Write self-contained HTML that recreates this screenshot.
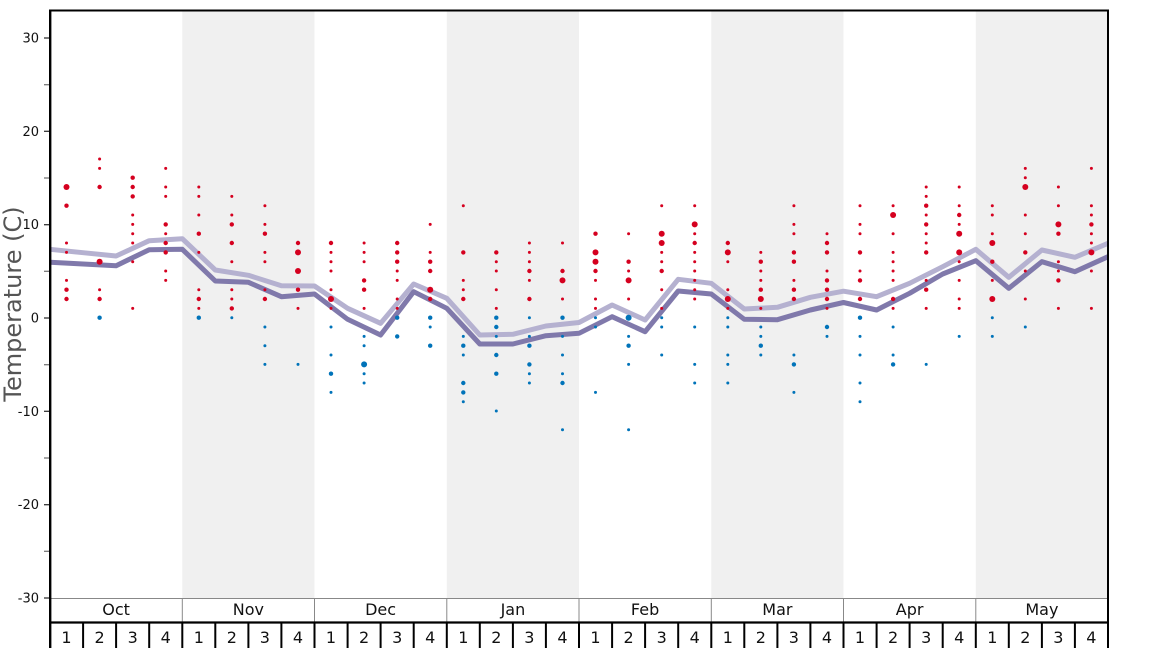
<!DOCTYPE html>
<html><head><meta charset="utf-8"><style>
html,body{margin:0;padding:0;background:#fff;}
svg{display:block;}
.r{fill:#d5001f}.b{fill:#0073b9}
text{font-family:"DejaVu Sans","Liberation Sans",sans-serif;}
</style></head><body>
<svg width="1168" height="648" viewBox="0 0 1168 648" xmlns="http://www.w3.org/2000/svg">
<!-- shaded bands -->
<rect x="182.3" y="10" width="132.2" height="588" fill="#f0f0f0"/>
<rect x="446.8" y="10" width="132.2" height="588" fill="#f0f0f0"/>
<rect x="711.3" y="10" width="132.2" height="588" fill="#f0f0f0"/>
<rect x="975.8" y="10" width="132.2" height="588" fill="#f0f0f0"/>

<!-- lines -->
<polyline fill="none" stroke="#b5b1d0" stroke-width="5" stroke-linejoin="round" points="50,249.3 83.1,252.7 116.1,256 149.2,240.7 182.3,238.7 215.3,270 248.4,275.3 281.4,285.7 314.5,286 347.6,308.3 380.6,323.3 413.7,284 446.8,298.3 479.8,335 512.9,334.3 545.9,326 579,322.5 612.1,305 645.1,320 678.2,279.3 711.3,283.3 744.3,309 777.4,307.3 810.4,297.3 843.5,291.2 876.6,296.7 909.6,283.3 942.7,266.7 975.8,249.3 1008.8,277.3 1041.9,250 1074.9,257.3 1108,243.3"/>
<polyline fill="none" stroke="#8079ab" stroke-width="5" stroke-linejoin="round" points="50,262.3 83.1,264 116.1,265.7 149.2,249.7 182.3,249.3 215.3,281 248.4,282.3 281.4,296.7 314.5,294 347.6,319.3 380.6,335 413.7,291.7 446.8,308.3 479.8,344 512.9,344 545.9,335.7 579,333.3 612.1,316.7 645.1,331.7 678.2,291 711.3,294 744.3,319.3 777.4,319.7 810.4,310 843.5,302.5 876.6,310 909.6,293.3 942.7,274 975.8,260.7 1008.8,288.3 1041.9,261.7 1074.9,271.7 1108,256.7"/>

<!-- dots -->
<g transform="translate(66.5 0)">
<g class="r"><circle cy="187" r="3"/><circle cy="205.7" r="2.2"/><circle cy="243" r="1.5"/><circle cy="252.4" r="1.5"/><circle cy="280.4" r="1.5"/><circle cy="289.7" r="2.2"/><circle cy="299" r="2.2"/></g>
</g>
<g transform="translate(99.6 0)">
<g class="r"><circle cy="159" r="1.5"/><circle cy="168.4" r="1.5"/><circle cy="187" r="2.2"/><circle cy="261.7" r="3"/><circle cy="289.7" r="1.5"/><circle cy="299" r="2.2"/></g>
<g class="b"><circle cy="317.7" r="2.2"/></g>
</g>
<g transform="translate(132.7 0)">
<g class="r"><circle cy="177.7" r="2.2"/><circle cy="187" r="2.2"/><circle cy="196.4" r="2.2"/><circle cy="215" r="1.5"/><circle cy="224.4" r="1.5"/><circle cy="233.7" r="1.5"/><circle cy="243" r="1.5"/><circle cy="261.7" r="1.5"/><circle cy="308.4" r="1.5"/></g>
</g>
<g transform="translate(165.7 0)">
<g class="r"><circle cy="168.4" r="1.5"/><circle cy="187" r="1.5"/><circle cy="196.4" r="1.5"/><circle cy="224.4" r="2.2"/><circle cy="233.7" r="1.5"/><circle cy="243" r="2.2"/><circle cy="252.4" r="2.2"/><circle cy="271" r="1.5"/><circle cy="280.4" r="1.5"/></g>
</g>
<g transform="translate(198.8 0)">
<g class="r"><circle cy="187" r="1.5"/><circle cy="196.4" r="1.5"/><circle cy="215" r="1.5"/><circle cy="233.7" r="2.2"/><circle cy="252.4" r="1.5"/><circle cy="289.7" r="1.5"/><circle cy="299" r="2.2"/><circle cy="308.4" r="1.5"/></g>
<g class="b"><circle cy="317.7" r="2.2"/></g>
</g>
<g transform="translate(231.8 0)">
<g class="r"><circle cy="196.4" r="1.5"/><circle cy="215" r="1.5"/><circle cy="224.4" r="2.2"/><circle cy="243" r="2.2"/><circle cy="261.7" r="1.5"/><circle cy="289.7" r="1.5"/><circle cy="299" r="1.5"/><circle cy="308.4" r="2.2"/></g>
<g class="b"><circle cy="317.7" r="1.5"/></g>
</g>
<g transform="translate(264.9 0)">
<g class="r"><circle cy="205.7" r="1.5"/><circle cy="224.4" r="1.5"/><circle cy="233.7" r="2.2"/><circle cy="252.4" r="1.5"/><circle cy="261.7" r="1.5"/><circle cy="289.7" r="1.5"/><circle cy="299" r="2.2"/></g>
<g class="b"><circle cy="327" r="1.5"/><circle cy="345.7" r="1.5"/><circle cy="364.4" r="1.5"/></g>
</g>
<g transform="translate(298 0)">
<g class="r"><circle cy="243" r="2.2"/><circle cy="252.4" r="3"/><circle cy="271" r="3"/><circle cy="289.7" r="2.2"/><circle cy="308.4" r="1.5"/></g>
<g class="b"><circle cy="364.4" r="1.5"/></g>
</g>
<g transform="translate(331 0)">
<g class="r"><circle cy="243" r="2.2"/><circle cy="252.4" r="1.5"/><circle cy="261.7" r="1.5"/><circle cy="271" r="1.5"/><circle cy="289.7" r="1.5"/><circle cy="299" r="3"/><circle cy="308.4" r="1.5"/></g>
<g class="b"><circle cy="327" r="1.5"/><circle cy="355" r="1.5"/><circle cy="373.7" r="2.2"/><circle cy="392.4" r="1.5"/></g>
</g>
<g transform="translate(364.1 0)">
<g class="r"><circle cy="243" r="1.5"/><circle cy="252.4" r="1.5"/><circle cy="261.7" r="1.5"/><circle cy="280.4" r="2.2"/><circle cy="289.7" r="2.2"/><circle cy="308.4" r="1.5"/></g>
<g class="b"><circle cy="336.4" r="1.5"/><circle cy="345.7" r="1.5"/><circle cy="364.4" r="3"/><circle cy="373.7" r="1.5"/><circle cy="383" r="1.5"/></g>
</g>
<g transform="translate(397.2 0)">
<g class="r"><circle cy="243" r="2.2"/><circle cy="252.4" r="2.2"/><circle cy="261.7" r="2.2"/><circle cy="271" r="1.5"/><circle cy="280.4" r="1.5"/><circle cy="299" r="1.5"/><circle cy="308.4" r="1.5"/></g>
<g class="b"><circle cy="317.7" r="2.2"/><circle cy="336.4" r="2.2"/></g>
</g>
<g transform="translate(430.2 0)">
<g class="r"><circle cy="224.4" r="1.5"/><circle cy="252.4" r="1.5"/><circle cy="261.7" r="2.2"/><circle cy="271" r="2.2"/><circle cy="289.7" r="3"/><circle cy="299" r="2.2"/></g>
<g class="b"><circle cy="317.7" r="2.2"/><circle cy="327" r="1.5"/><circle cy="345.7" r="2.2"/></g>
</g>
<g transform="translate(463.3 0)">
<g class="r"><circle cy="205.7" r="1.5"/><circle cy="252.4" r="2.2"/><circle cy="280.4" r="1.5"/><circle cy="289.7" r="1.5"/><circle cy="299" r="2.2"/></g>
<g class="b"><circle cy="336.4" r="1.5"/><circle cy="345.7" r="2.2"/><circle cy="355" r="1.5"/><circle cy="383" r="2.2"/><circle cy="392.4" r="2.2"/><circle cy="401.7" r="1.5"/></g>
</g>
<g transform="translate(496.3 0)">
<g class="r"><circle cy="252.4" r="2.2"/><circle cy="261.7" r="1.5"/><circle cy="271" r="1.5"/><circle cy="289.7" r="1.5"/><circle cy="308.4" r="1.5"/></g>
<g class="b"><circle cy="317.7" r="2.2"/><circle cy="327" r="2.2"/><circle cy="336.4" r="1.5"/><circle cy="355" r="2.2"/><circle cy="373.7" r="2.2"/><circle cy="411" r="1.5"/></g>
</g>
<g transform="translate(529.4 0)">
<g class="r"><circle cy="243" r="1.5"/><circle cy="252.4" r="1.5"/><circle cy="261.7" r="1.5"/><circle cy="271" r="2.2"/><circle cy="280.4" r="1.5"/><circle cy="299" r="2.2"/></g>
<g class="b"><circle cy="317.7" r="1.5"/><circle cy="336.4" r="1.5"/><circle cy="345.7" r="2.2"/><circle cy="364.4" r="2.2"/><circle cy="373.7" r="1.5"/><circle cy="383" r="1.5"/></g>
</g>
<g transform="translate(562.5 0)">
<g class="r"><circle cy="243" r="1.5"/><circle cy="271" r="2.2"/><circle cy="280.4" r="3"/><circle cy="299" r="1.5"/></g>
<g class="b"><circle cy="317.7" r="2.2"/><circle cy="336.4" r="1.5"/><circle cy="355" r="1.5"/><circle cy="373.7" r="1.5"/><circle cy="383" r="2.2"/><circle cy="429.7" r="1.5"/></g>
</g>
<g transform="translate(595.5 0)">
<g class="r"><circle cy="233.7" r="2.2"/><circle cy="252.4" r="3"/><circle cy="261.7" r="3"/><circle cy="271" r="2.2"/><circle cy="280.4" r="1.5"/><circle cy="299" r="1.5"/><circle cy="308.4" r="1.5"/></g>
<g class="b"><circle cy="317.7" r="1.5"/><circle cy="327" r="1.5"/><circle cy="392.4" r="1.5"/></g>
</g>
<g transform="translate(628.6 0)">
<g class="r"><circle cy="233.7" r="1.5"/><circle cy="261.7" r="2.2"/><circle cy="271" r="1.5"/><circle cy="280.4" r="3"/><circle cy="299" r="1.5"/></g>
<g class="b"><circle cy="317.7" r="3"/><circle cy="336.4" r="1.5"/><circle cy="345.7" r="2.2"/><circle cy="364.4" r="1.5"/><circle cy="429.7" r="1.5"/></g>
</g>
<g transform="translate(661.7 0)">
<g class="r"><circle cy="205.7" r="1.5"/><circle cy="233.7" r="3"/><circle cy="243" r="3"/><circle cy="252.4" r="1.5"/><circle cy="261.7" r="1.5"/><circle cy="271" r="2.2"/><circle cy="289.7" r="1.5"/><circle cy="308.4" r="1.5"/></g>
<g class="b"><circle cy="317.7" r="1.5"/><circle cy="327" r="1.5"/><circle cy="355" r="1.5"/></g>
</g>
<g transform="translate(694.7 0)">
<g class="r"><circle cy="205.7" r="1.5"/><circle cy="224.4" r="3"/><circle cy="233.7" r="1.5"/><circle cy="243" r="2.2"/><circle cy="252.4" r="1.5"/><circle cy="261.7" r="1.5"/><circle cy="271" r="1.5"/><circle cy="280.4" r="1.5"/><circle cy="289.7" r="1.5"/><circle cy="299" r="1.5"/></g>
<g class="b"><circle cy="327" r="1.5"/><circle cy="364.4" r="1.5"/><circle cy="383" r="1.5"/></g>
</g>
<g transform="translate(727.8 0)">
<g class="r"><circle cy="243" r="2.2"/><circle cy="252.4" r="3"/><circle cy="261.7" r="1.5"/><circle cy="289.7" r="1.5"/><circle cy="299" r="3"/><circle cy="308.4" r="1.5"/></g>
<g class="b"><circle cy="317.7" r="1.5"/><circle cy="327" r="1.5"/><circle cy="355" r="1.5"/><circle cy="364.4" r="1.5"/><circle cy="383" r="1.5"/></g>
</g>
<g transform="translate(760.8 0)">
<g class="r"><circle cy="252.4" r="1.5"/><circle cy="261.7" r="2.2"/><circle cy="271" r="1.5"/><circle cy="280.4" r="1.5"/><circle cy="289.7" r="2.2"/><circle cy="299" r="3"/><circle cy="308.4" r="1.5"/></g>
<g class="b"><circle cy="327" r="1.5"/><circle cy="336.4" r="1.5"/><circle cy="345.7" r="2.2"/><circle cy="355" r="1.5"/></g>
</g>
<g transform="translate(793.9 0)">
<g class="r"><circle cy="205.7" r="1.5"/><circle cy="224.4" r="1.5"/><circle cy="233.7" r="1.5"/><circle cy="252.4" r="2.2"/><circle cy="261.7" r="2.2"/><circle cy="280.4" r="1.5"/><circle cy="289.7" r="2.2"/><circle cy="299" r="2.2"/></g>
<g class="b"><circle cy="355" r="1.5"/><circle cy="364.4" r="2.2"/><circle cy="392.4" r="1.5"/></g>
</g>
<g transform="translate(827 0)">
<g class="r"><circle cy="233.7" r="1.5"/><circle cy="243" r="2.2"/><circle cy="252.4" r="2.2"/><circle cy="271" r="1.5"/><circle cy="280.4" r="2.2"/><circle cy="289.7" r="2.2"/><circle cy="299" r="2.2"/><circle cy="308.4" r="1.5"/></g>
<g class="b"><circle cy="327" r="2.2"/><circle cy="336.4" r="1.5"/></g>
</g>
<g transform="translate(860 0)">
<g class="r"><circle cy="205.7" r="1.5"/><circle cy="224.4" r="1.5"/><circle cy="233.7" r="1.5"/><circle cy="252.4" r="2.2"/><circle cy="271" r="1.5"/><circle cy="280.4" r="2.2"/><circle cy="299" r="2.2"/></g>
<g class="b"><circle cy="317.7" r="2.2"/><circle cy="336.4" r="1.5"/><circle cy="355" r="1.5"/><circle cy="383" r="1.5"/><circle cy="401.7" r="1.5"/></g>
</g>
<g transform="translate(893.1 0)">
<g class="r"><circle cy="205.7" r="1.5"/><circle cy="215" r="3"/><circle cy="233.7" r="1.5"/><circle cy="252.4" r="1.5"/><circle cy="261.7" r="1.5"/><circle cy="271" r="1.5"/><circle cy="280.4" r="1.5"/><circle cy="299" r="2.2"/><circle cy="308.4" r="1.5"/></g>
<g class="b"><circle cy="327" r="1.5"/><circle cy="355" r="1.5"/><circle cy="364.4" r="2.2"/></g>
</g>
<g transform="translate(926.2 0)">
<g class="r"><circle cy="187" r="1.5"/><circle cy="196.4" r="1.5"/><circle cy="205.7" r="2.2"/><circle cy="215" r="1.5"/><circle cy="224.4" r="2.2"/><circle cy="233.7" r="1.5"/><circle cy="243" r="1.5"/><circle cy="252.4" r="2.2"/><circle cy="280.4" r="1.5"/><circle cy="289.7" r="2.2"/><circle cy="308.4" r="1.5"/></g>
<g class="b"><circle cy="364.4" r="1.5"/></g>
</g>
<g transform="translate(959.2 0)">
<g class="r"><circle cy="187" r="1.5"/><circle cy="205.7" r="1.5"/><circle cy="215" r="2.2"/><circle cy="224.4" r="1.5"/><circle cy="233.7" r="3"/><circle cy="252.4" r="3"/><circle cy="261.7" r="1.5"/><circle cy="280.4" r="1.5"/><circle cy="299" r="1.5"/><circle cy="308.4" r="1.5"/></g>
<g class="b"><circle cy="336.4" r="1.5"/></g>
</g>
<g transform="translate(992.3 0)">
<g class="r"><circle cy="205.7" r="1.5"/><circle cy="215" r="1.5"/><circle cy="233.7" r="1.5"/><circle cy="243" r="3"/><circle cy="261.7" r="2.2"/><circle cy="280.4" r="1.5"/><circle cy="299" r="3"/></g>
<g class="b"><circle cy="317.7" r="1.5"/><circle cy="336.4" r="1.5"/></g>
</g>
<g transform="translate(1025.3 0)">
<g class="r"><circle cy="168.4" r="1.5"/><circle cy="177.7" r="1.5"/><circle cy="187" r="3"/><circle cy="215" r="1.5"/><circle cy="233.7" r="1.5"/><circle cy="252.4" r="2.2"/><circle cy="271" r="1.5"/><circle cy="299" r="1.5"/></g>
<g class="b"><circle cy="327" r="1.5"/></g>
</g>
<g transform="translate(1058.4 0)">
<g class="r"><circle cy="187" r="1.5"/><circle cy="205.7" r="1.5"/><circle cy="224.4" r="3"/><circle cy="233.7" r="2.2"/><circle cy="261.7" r="1.5"/><circle cy="271" r="1.5"/><circle cy="280.4" r="2.2"/><circle cy="308.4" r="1.5"/></g>
</g>
<g transform="translate(1091.4 0)">
<g class="r"><circle cy="168.4" r="1.5"/><circle cy="205.7" r="1.5"/><circle cy="215" r="1.5"/><circle cy="224.4" r="2.2"/><circle cy="233.7" r="1.5"/><circle cy="243" r="1.5"/><circle cy="252.4" r="3"/><circle cy="271" r="1.5"/><circle cy="308.4" r="1.5"/></g>
</g>

<!-- y ticks -->
<g stroke="#333" stroke-width="1.3">
<line x1="44" y1="38" x2="50" y2="38"/><line x1="44" y1="131.3" x2="50" y2="131.3"/><line x1="44" y1="224.7" x2="50" y2="224.7"/><line x1="44" y1="318" x2="50" y2="318"/><line x1="44" y1="411.3" x2="50" y2="411.3"/><line x1="44" y1="504.7" x2="50" y2="504.7"/><line x1="44" y1="598" x2="50" y2="598"/>
</g>
<g stroke="#777" stroke-width="1.3">
<line x1="44" y1="84.7" x2="50" y2="84.7"/><line x1="44" y1="178" x2="50" y2="178"/><line x1="44" y1="271.3" x2="50" y2="271.3"/><line x1="44" y1="364.7" x2="50" y2="364.7"/><line x1="44" y1="458" x2="50" y2="458"/><line x1="44" y1="551.3" x2="50" y2="551.3"/>
</g>
<g font-size="13" fill="#111" text-anchor="end">
<text x="39" y="42.5">30</text><text x="39" y="135.8">20</text><text x="39" y="229.2">10</text><text x="39" y="322.5">0</text><text x="39" y="415.8">-10</text><text x="39" y="509.2">-20</text><text x="39" y="602.5">-30</text>
</g>
<text transform="translate(21 304) rotate(-90)" text-anchor="middle" font-size="24" fill="#555">Temperature (C)</text>

<!-- bottom axis -->
<line x1="50" y1="598.5" x2="1108" y2="598.5" stroke="#888" stroke-width="1"/>
<g stroke="#888" stroke-width="1">
<line x1="182.3" y1="598" x2="182.3" y2="622"/><line x1="314.5" y1="598" x2="314.5" y2="622"/><line x1="446.8" y1="598" x2="446.8" y2="622"/><line x1="579" y1="598" x2="579" y2="622"/><line x1="711.3" y1="598" x2="711.3" y2="622"/><line x1="843.5" y1="598" x2="843.5" y2="622"/><line x1="975.8" y1="598" x2="975.8" y2="622"/>
</g>
<line x1="49" y1="622.5" x2="1109" y2="622.5" stroke="#000" stroke-width="2.2"/>
<g stroke="#000" stroke-width="2">
<line x1="83.1" y1="622" x2="83.1" y2="648"/><line x1="116.1" y1="622" x2="116.1" y2="648"/><line x1="149.2" y1="622" x2="149.2" y2="648"/><line x1="182.3" y1="622" x2="182.3" y2="648"/><line x1="215.3" y1="622" x2="215.3" y2="648"/><line x1="248.4" y1="622" x2="248.4" y2="648"/><line x1="281.4" y1="622" x2="281.4" y2="648"/><line x1="314.5" y1="622" x2="314.5" y2="648"/><line x1="347.6" y1="622" x2="347.6" y2="648"/><line x1="380.6" y1="622" x2="380.6" y2="648"/><line x1="413.7" y1="622" x2="413.7" y2="648"/><line x1="446.8" y1="622" x2="446.8" y2="648"/><line x1="479.8" y1="622" x2="479.8" y2="648"/><line x1="512.9" y1="622" x2="512.9" y2="648"/><line x1="545.9" y1="622" x2="545.9" y2="648"/><line x1="579" y1="622" x2="579" y2="648"/><line x1="612.1" y1="622" x2="612.1" y2="648"/><line x1="645.1" y1="622" x2="645.1" y2="648"/><line x1="678.2" y1="622" x2="678.2" y2="648"/><line x1="711.3" y1="622" x2="711.3" y2="648"/><line x1="744.3" y1="622" x2="744.3" y2="648"/><line x1="777.4" y1="622" x2="777.4" y2="648"/><line x1="810.4" y1="622" x2="810.4" y2="648"/><line x1="843.5" y1="622" x2="843.5" y2="648"/><line x1="876.6" y1="622" x2="876.6" y2="648"/><line x1="909.6" y1="622" x2="909.6" y2="648"/><line x1="942.7" y1="622" x2="942.7" y2="648"/><line x1="975.8" y1="622" x2="975.8" y2="648"/><line x1="1008.8" y1="622" x2="1008.8" y2="648"/><line x1="1041.9" y1="622" x2="1041.9" y2="648"/><line x1="1074.9" y1="622" x2="1074.9" y2="648"/>
</g>
<g font-size="16" fill="#111" text-anchor="middle">
<text x="116.1" y="615">Oct</text><text x="248.4" y="615">Nov</text><text x="380.6" y="615">Dec</text><text x="512.9" y="615">Jan</text><text x="645.1" y="615">Feb</text><text x="777.4" y="615">Mar</text><text x="909.6" y="615">Apr</text><text x="1041.9" y="615">May</text>
</g>
<g font-size="16" fill="#111" text-anchor="middle">
<text x="66.5" y="643">1</text><text x="99.6" y="643">2</text><text x="132.7" y="643">3</text><text x="165.7" y="643">4</text>
<text x="198.8" y="643">1</text><text x="231.8" y="643">2</text><text x="264.9" y="643">3</text><text x="298" y="643">4</text>
<text x="331" y="643">1</text><text x="364.1" y="643">2</text><text x="397.2" y="643">3</text><text x="430.2" y="643">4</text>
<text x="463.3" y="643">1</text><text x="496.3" y="643">2</text><text x="529.4" y="643">3</text><text x="562.5" y="643">4</text>
<text x="595.5" y="643">1</text><text x="628.6" y="643">2</text><text x="661.7" y="643">3</text><text x="694.7" y="643">4</text>
<text x="727.8" y="643">1</text><text x="760.8" y="643">2</text><text x="793.9" y="643">3</text><text x="827" y="643">4</text>
<text x="860" y="643">1</text><text x="893.1" y="643">2</text><text x="926.2" y="643">3</text><text x="959.2" y="643">4</text>
<text x="992.3" y="643">1</text><text x="1025.3" y="643">2</text><text x="1058.4" y="643">3</text><text x="1091.4" y="643">4</text>
</g>

<!-- frame -->
<line x1="49" y1="10.5" x2="1109" y2="10.5" stroke="#000" stroke-width="2"/>
<line x1="50.2" y1="9.5" x2="50.2" y2="648" stroke="#000" stroke-width="2.4"/>
<line x1="1108" y1="9.5" x2="1108" y2="648" stroke="#000" stroke-width="2"/>
</svg>
</body></html>
